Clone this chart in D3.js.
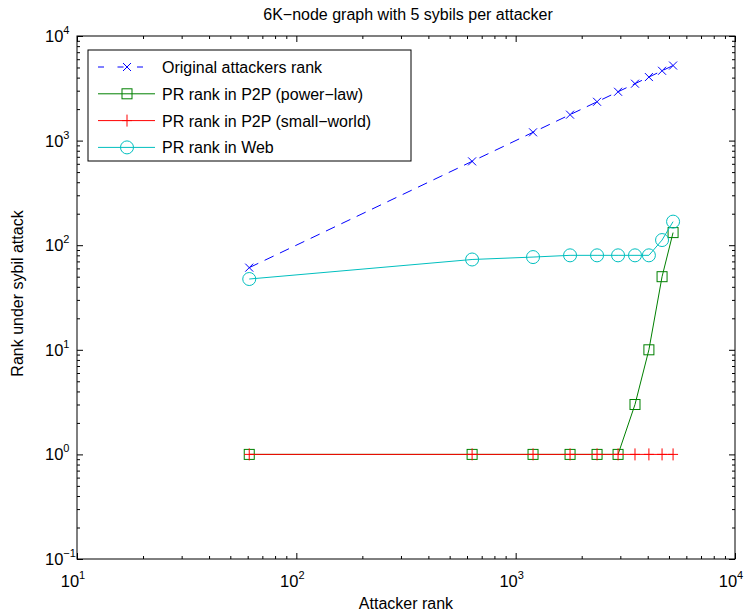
<!DOCTYPE html>
<html>
<head>
<meta charset="utf-8">
<script src="https://cdn.jsdelivr.net/npm/d3@7"></script>
<style>
  body { margin: 0; background: #fff; }
  svg text { font-family: "Liberation Sans", Arial, Helvetica, sans-serif; fill: #000; }
</style>
</head>
<body>
<div id="chart"></div>
<script>
// data
var attackerRank = [61, 633, 1200, 1770, 2350, 2930, 3500, 4050, 4650, 5220];
var originalRank = [61, 633, 1200, 1770, 2350, 2930, 3500, 4050, 4650, 5220];
var powerLawRank = [1, 1, 1, 1, 1, 1, 3, 10, 50, 132];
var smallWorldRank = [1, 1, 1, 1, 1, 1, 1, 1, 1, 1];
var webRank = [47.5, 73, 77, 80, 80, 80, 80, 80, 112, 168];

var seriesNames = ["Original attackers rank", "PR rank in P2P (power\u2212law)",
                   "PR rank in P2P (small\u2212world)", "PR rank in Web"];
var xTicks = [10, 100, 1000, 10000];
var yTicks = [0.1, 1, 10, 100, 1000, 10000];

var width = 746, height = 614;
var margin = {top: 36, right: 11, bottom: 55, left: 77};
var plotW = width - margin.left - margin.right;
var plotH = height - margin.top - margin.bottom;

var svg = d3.select("#chart").append("svg")
    .attr("width", width)
    .attr("height", height);

var x = d3.scaleLog().domain([10, 10000]).range([0, plotW]);
var y = d3.scaleLog().domain([0.1, 10000]).range([plotH, 0]);

var g = svg.append("g")
    .attr("transform", "translate(" + margin.left + "," + margin.top + ")");

// minor tick values (2..9 x decade)
function minors(domain) {
    var out = [];
    for (var e = Math.round(Math.log10(domain[0])); e < Math.round(Math.log10(domain[1])); e++) {
        for (var m = 2; m <= 9; m++) out.push(m * Math.pow(10, e));
    }
    return out;
}

// axes: ticks inward on all four sides
function addAxis(axisFn, scale, major, minor, tr) {
    var a = g.append("g").attr("transform", tr);
    a.call(axisFn(scale).tickValues(major).tickSize(-6).tickFormat(""));
    a.append("g").call(axisFn(scale).tickValues(minor).tickSize(-3).tickFormat(""));
    a.selectAll(".domain").remove();
    a.selectAll("line").attr("stroke", "#000").attr("stroke-width", 1);
    return a;
}
addAxis(d3.axisBottom, x, xTicks, minors(x.domain()), "translate(0," + plotH + ")");
addAxis(d3.axisTop, x, xTicks, minors(x.domain()), "translate(0,0)");
addAxis(d3.axisLeft, y, yTicks, minors(y.domain()), "translate(0,0)");
addAxis(d3.axisRight, y, yTicks, minors(y.domain()), "translate(" + plotW + ",0)");

g.append("rect")
    .attr("width", plotW).attr("height", plotH)
    .attr("fill", "none").attr("stroke", "#000").attr("stroke-width", 1);

// tick labels as 10 with superscript
function powerLabel(sel, v) {
    var e = Math.round(Math.log10(v));
    sel.append("tspan").text("10");
    sel.append("tspan").attr("font-size", 11).attr("dy", -8).text(String(e).replace("-", "\u2212"));
}
g.selectAll("text.xlab").data(xTicks).enter().append("text")
    .attr("class", "xlab")
    .attr("x", function (d) { return x(d) - 4; })
    .attr("y", plotH + 28)
    .attr("text-anchor", "middle")
    .attr("font-size", 16.5)
    .each(function (d) { powerLabel(d3.select(this), d); });

g.selectAll("text.ylab").data(yTicks).enter().append("text")
    .attr("class", "ylab")
    .attr("x", -32)
    .attr("y", function (d) { return y(d) + 6; })
    .attr("text-anchor", "start")
    .attr("font-size", 16.5)
    .each(function (d) { powerLabel(d3.select(this), d); });

// title and axis titles
svg.append("text")
    .attr("x", margin.left + plotW / 2 + 2).attr("y", 20)
    .attr("text-anchor", "middle").attr("font-size", 16)
    .text("6K\u2212node graph with 5 sybils per attacker");
svg.append("text")
    .attr("x", margin.left + plotW / 2).attr("y", 609)
    .attr("text-anchor", "middle").attr("font-size", 16)
    .text("Attacker rank");
svg.append("text")
    .attr("transform", "translate(23," + (margin.top + plotH / 2 - 4) + ") rotate(-90)")
    .attr("text-anchor", "middle").attr("font-size", 16)
    .text("Rank under sybil attack");

// series
var series = [
    {name: seriesNames[0], values: originalRank, color: "#0000ff", dash: "10,7", marker: "x"},
    {name: seriesNames[1], values: powerLawRank, color: "#008000", dash: null, marker: "square"},
    {name: seriesNames[2], values: smallWorldRank, color: "#ff0000", dash: null, marker: "plus"},
    {name: seriesNames[3], values: webRank, color: "#00bfbf", dash: null, marker: "circle"}
];

function drawMarker(sel, type, color) {
    if (type === "x") {
        sel.append("path").attr("d", "M-4,-4L4,4M-4,4L4,-4");
    } else if (type === "plus") {
        sel.append("path").attr("d", "M-5,0L5,0M0,-6L0,6");
    } else if (type === "square") {
        sel.append("rect").attr("x", -5).attr("y", -5).attr("width", 10).attr("height", 10);
    } else {
        sel.append("circle").attr("r", 6.5);
    }
    sel.selectAll("*").attr("fill", "none").attr("stroke", color).attr("stroke-width", 1);
}

var line = d3.line()
    .x(function (d) { return x(d[0]); })
    .y(function (d) { return y(d[1]); });

series.forEach(function (s) {
    var pts = attackerRank.map(function (a, i) { return [a, s.values[i]]; });
    g.append("path")
        .datum(pts)
        .attr("d", line)
        .attr("fill", "none")
        .attr("stroke", s.color)
        .attr("stroke-width", 1)
        .attr("stroke-dasharray", s.dash);
    g.selectAll(null).data(pts).enter().append("g")
        .attr("transform", function (d) { return "translate(" + x(d[0]) + "," + y(d[1]) + ")"; })
        .each(function () { drawMarker(d3.select(this), s.marker, s.color); });
});

// legend
var legend = svg.append("g").attr("transform", "translate(88,50)");
legend.append("rect")
    .attr("width", 323).attr("height", 111)
    .attr("fill", "#fff").attr("stroke", "#000").attr("stroke-width", 1);
var item = legend.selectAll("g.item").data(series).enter().append("g")
    .attr("class", "item")
    .attr("transform", function (d, i) { return "translate(0," + (17 + i * 26.8) + ")"; });
item.append("line")
    .attr("x1", 10).attr("x2", 67)
    .attr("stroke", function (d) { return d.color; })
    .attr("stroke-width", 1)
    .attr("stroke-dasharray", function (d) { return d.dash ? "6,13.5" : null; });
item.append("g")
    .attr("transform", "translate(39,0)")
    .each(function (d) { drawMarker(d3.select(this), d.marker, d.color); });
item.append("text")
    .attr("x", 74).attr("y", 6)
    .attr("font-size", 16)
    .text(function (d) { return d.name; });
</script>
</body>
</html>
